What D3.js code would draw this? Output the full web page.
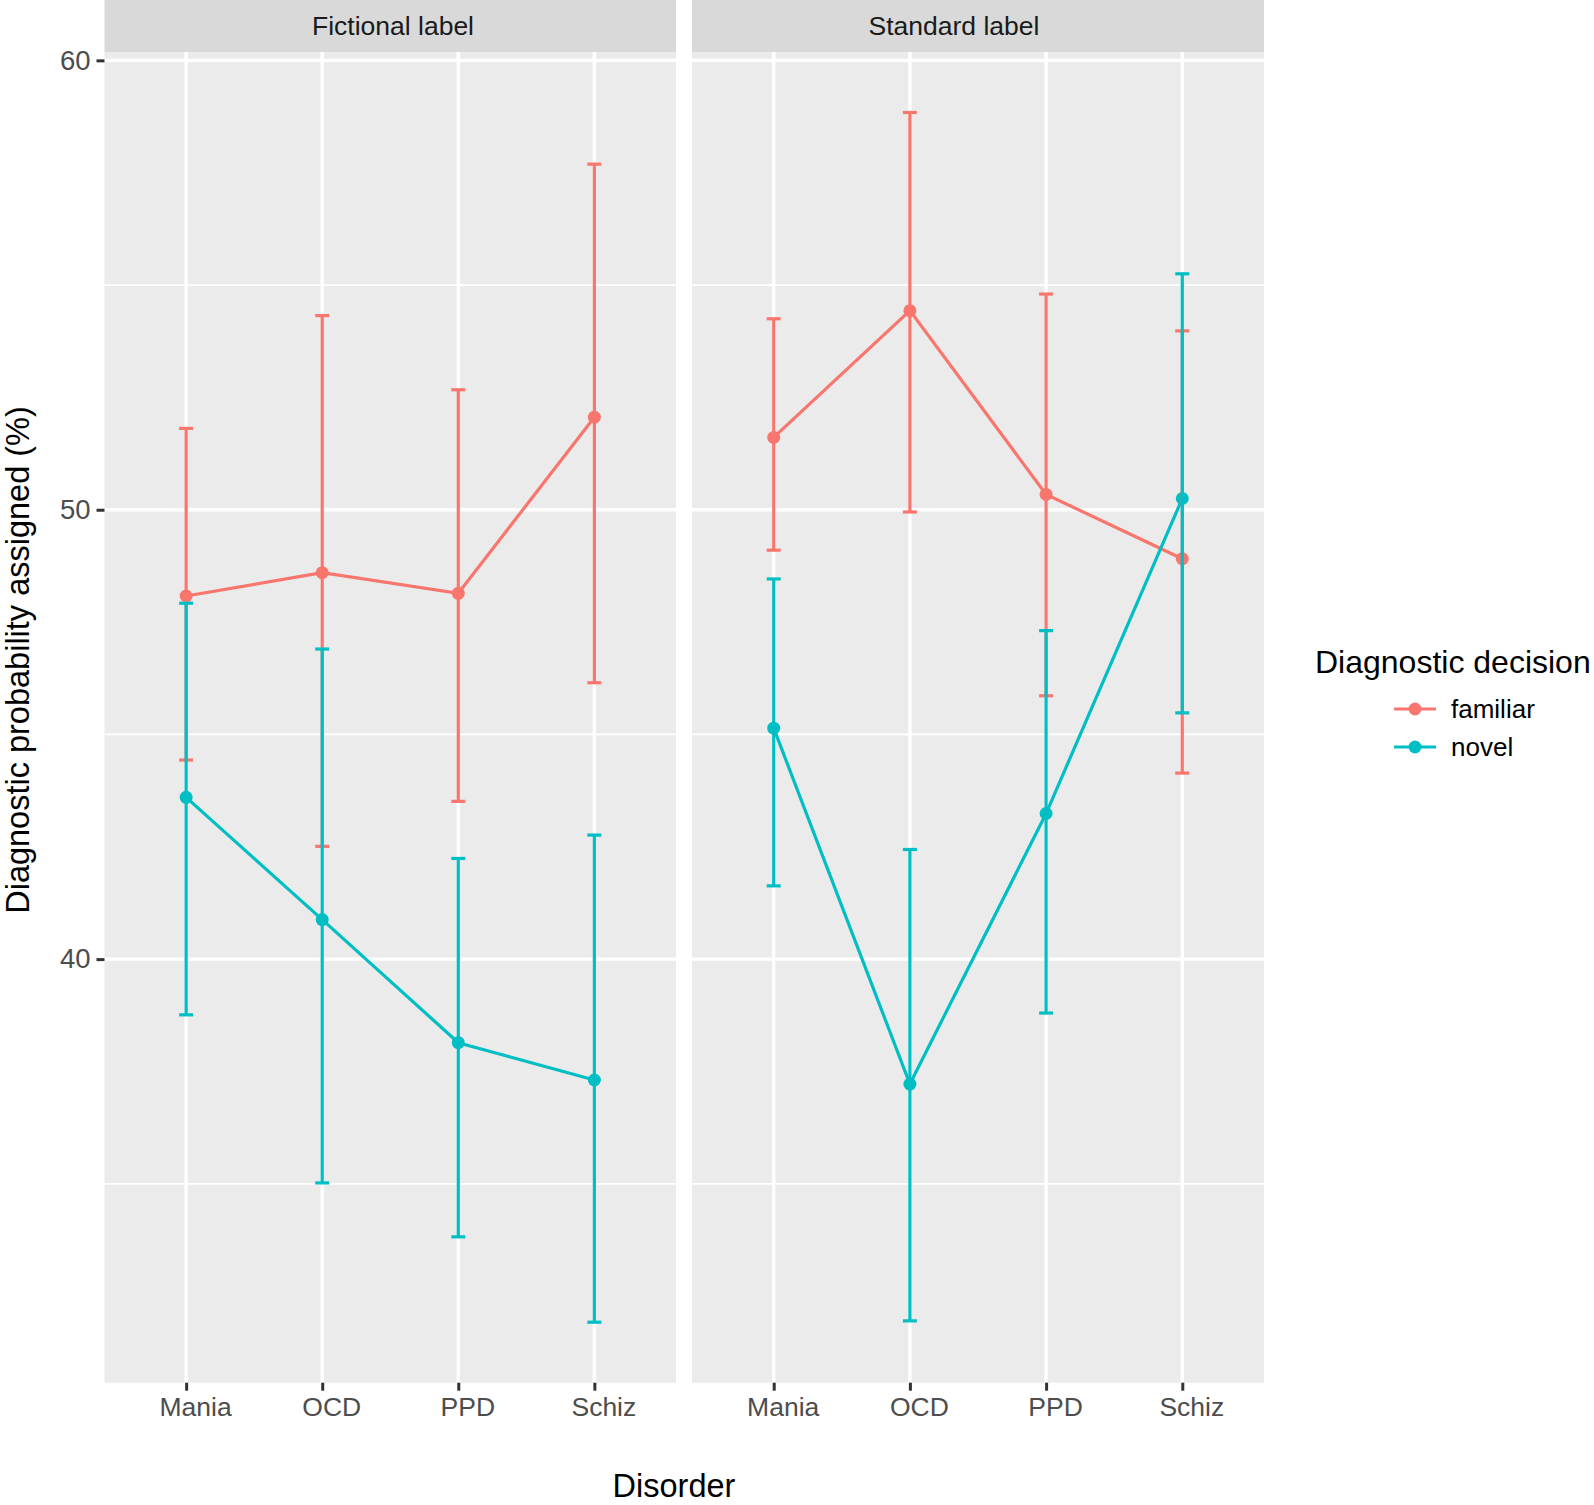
<!DOCTYPE html>
<html>
<head>
<meta charset="utf-8">
<script src="https://cdn.jsdelivr.net/npm/d3@7"></script>
<style>
  body { margin: 0; background: #fff; }
  svg { display: block; font-family: "Liberation Sans", Arial, Helvetica, sans-serif; }
</style>
</head>
<body>
<div id="chart"></div>
<script>
// facets, categories and groups
const panels = ['Fictional label', 'Standard label'];
const disorders = ['Mania', 'OCD', 'PPD', 'Schiz'];
const decisions = ['familiar', 'novel'];
const yTicks = [40, 50, 60];

// means and error bar limits (order: Mania, OCD, PPD, Schiz)
const fictionalFamiliarMean = [48.08, 48.60, 48.14, 52.06];
const fictionalFamiliarLow  = [44.43, 42.51, 43.51, 46.15];
const fictionalFamiliarHigh = [51.81, 54.32, 52.67, 57.69];

const fictionalNovelMean = [43.60, 40.88, 38.14, 37.31];
const fictionalNovelLow  = [38.76, 35.02, 33.82, 31.92];
const fictionalNovelHigh = [47.92, 46.90, 42.24, 42.76];

const standardFamiliarMean = [51.61, 54.43, 50.34, 48.91];
const standardFamiliarLow  = [49.10, 49.95, 45.86, 44.14];
const standardFamiliarHigh = [54.25, 58.84, 54.80, 53.98];

const standardNovelMean = [45.14, 37.22, 43.24, 50.25];
const standardNovelLow  = [41.63, 31.95, 38.80, 45.48];
const standardNovelHigh = [48.46, 42.44, 47.31, 55.25];

const colors = { familiar: '#F8766D', novel: '#00BFC4' };

// build one long table
const series = [
  { panel: panels[0], decision: 'familiar', mean: fictionalFamiliarMean, low: fictionalFamiliarLow, high: fictionalFamiliarHigh },
  { panel: panels[0], decision: 'novel', mean: fictionalNovelMean, low: fictionalNovelLow, high: fictionalNovelHigh },
  { panel: panels[1], decision: 'familiar', mean: standardFamiliarMean, low: standardFamiliarLow, high: standardFamiliarHigh },
  { panel: panels[1], decision: 'novel', mean: standardNovelMean, low: standardNovelLow, high: standardNovelHigh }
].map(s => ({
  panel: s.panel,
  decision: s.decision,
  values: disorders.map((d, i) => ({ disorder: d, mean: s.mean[i], low: s.low[i], high: s.high[i] }))
}));

const width = 1594, height = 1505;
const plotTop = 52, plotBottom = 1382.7;
const stripH = 52;
const panelX = [[104.5, 676], [692, 1264]];
const stripLabelX = [393, 954];

const svg = d3.select('#chart').append('svg')
  .attr('width', width)
  .attr('height', height);

// y scale with ggplot-like 5% expansion
const allVals = series.flatMap(s => s.values.flatMap(v => [v.low, v.high]));
const yMin = d3.min(allVals), yMax = d3.max(allVals);
const pad = (yMax - yMin) * 0.05;
const y = d3.scaleLinear().domain([yMin - pad, yMax + pad]).range([plotBottom, plotTop]);
const minorTicks = [35, 45, 55];

panels.forEach((p, pi) => {
  const [x0, x1] = panelX[pi];
  const x = d3.scalePoint().domain(disorders).range([x0, x1]).padding(0.6);

  // strip
  svg.append('rect')
    .attr('x', x0).attr('y', 0)
    .attr('width', x1 - x0).attr('height', stripH)
    .attr('fill', '#d9d9d9');
  svg.append('text')
    .attr('x', stripLabelX[pi]).attr('y', 35)
    .attr('text-anchor', 'middle')
    .attr('font-size', 26.5)
    .attr('fill', '#1a1a1a')
    .text(p);

  // panel background
  const g = svg.append('g');
  g.append('rect')
    .attr('x', x0).attr('y', plotTop)
    .attr('width', x1 - x0).attr('height', plotBottom - plotTop)
    .attr('fill', '#ebebeb');

  // grid
  g.selectAll('.minor').data(minorTicks).join('line')
    .attr('x1', x0).attr('x2', x1)
    .attr('y1', d => y(d)).attr('y2', d => y(d))
    .attr('stroke', '#fff').attr('stroke-width', 1.7);
  g.selectAll('.major').data(yTicks).join('line')
    .attr('x1', x0).attr('x2', x1)
    .attr('y1', d => y(d)).attr('y2', d => y(d))
    .attr('stroke', '#fff').attr('stroke-width', 3.4);
  g.selectAll('.vgrid').data(disorders).join('line')
    .attr('x1', d => x(d)).attr('x2', d => x(d))
    .attr('y1', plotTop).attr('y2', plotBottom)
    .attr('stroke', '#fff').attr('stroke-width', 3.4);

  // x axis
  const xAxis = svg.append('g')
    .attr('transform', `translate(0, ${plotBottom})`)
    .call(d3.axisBottom(x).tickSize(8).tickPadding(6));
  xAxis.select('.domain').remove();
  xAxis.selectAll('.tick line').attr('stroke', '#333').attr('stroke-width', 3);
  xAxis.selectAll('.tick text')
    .attr('font-size', 26.5).attr('fill', '#4d4d4d')
    .attr('dx', 9)
    .attr('font-family', '"Liberation Sans", Arial, sans-serif');

  const ps = series.filter(s => s.panel === p);
  const line = d3.line().x(d => x(d.disorder)).y(d => y(d.mean));

  ps.forEach(s => {
    g.append('path')
      .datum(s.values)
      .attr('d', line)
      .attr('fill', 'none')
      .attr('stroke', colors[s.decision])
      .attr('stroke-width', 3.2);
  });
  ps.forEach(s => {
    g.selectAll(null).data(s.values).join('circle')
      .attr('cx', d => x(d.disorder)).attr('cy', d => y(d.mean))
      .attr('r', 6.5)
      .attr('fill', colors[s.decision]);
  });
  ps.forEach(s => {
    const eb = g.selectAll(null).data(s.values).join('g')
      .attr('stroke', colors[s.decision])
      .attr('stroke-width', 3.2);
    eb.append('line')
      .attr('x1', d => x(d.disorder)).attr('x2', d => x(d.disorder))
      .attr('y1', d => y(d.low)).attr('y2', d => y(d.high));
    eb.append('line')
      .attr('x1', d => x(d.disorder) - 7).attr('x2', d => x(d.disorder) + 7)
      .attr('y1', d => y(d.low)).attr('y2', d => y(d.low));
    eb.append('line')
      .attr('x1', d => x(d.disorder) - 7).attr('x2', d => x(d.disorder) + 7)
      .attr('y1', d => y(d.high)).attr('y2', d => y(d.high));
  });
});

// y axis on the left panel
const yAxis = svg.append('g')
  .attr('transform', `translate(${panelX[0][0]}, 0)`)
  .call(d3.axisLeft(y).tickValues(yTicks).tickSize(8).tickPadding(6));
yAxis.select('.domain').remove();
yAxis.selectAll('.tick line').attr('stroke', '#333').attr('stroke-width', 3);
yAxis.selectAll('.tick text')
  .attr('font-size', 27.5).attr('fill', '#4d4d4d')
  .attr('font-family', '"Liberation Sans", Arial, sans-serif');

// axis titles
svg.append('text')
  .attr('x', 674).attr('y', 1497)
  .attr('text-anchor', 'middle')
  .attr('font-size', 32.5)
  .attr('fill', '#000')
  .text('Disorder');

svg.append('text')
  .attr('transform', 'translate(29, 660) rotate(-90)')
  .attr('text-anchor', 'middle')
  .attr('font-size', 32.5)
  .attr('fill', '#000')
  .text('Diagnostic probability assigned (%)');

// legend
const legend = svg.append('g');
legend.append('text')
  .attr('x', 1315).attr('y', 673)
  .attr('font-size', 32)
  .attr('fill', '#000')
  .text('Diagnostic decision');

const legendY = d3.scalePoint().domain(decisions).range([709, 747]);
const items = legend.selectAll('.item').data(decisions).join('g')
  .attr('transform', d => `translate(0, ${legendY(d)})`);
items.append('line')
  .attr('x1', 1394).attr('x2', 1436)
  .attr('stroke', d => colors[d]).attr('stroke-width', 3.2);
items.append('circle')
  .attr('cx', 1415).attr('r', 6.5)
  .attr('fill', d => colors[d]);
items.append('text')
  .attr('x', 1451).attr('y', 9)
  .attr('font-size', 26)
  .attr('fill', '#000')
  .text(d => d);
</script>
</body>
</html>
